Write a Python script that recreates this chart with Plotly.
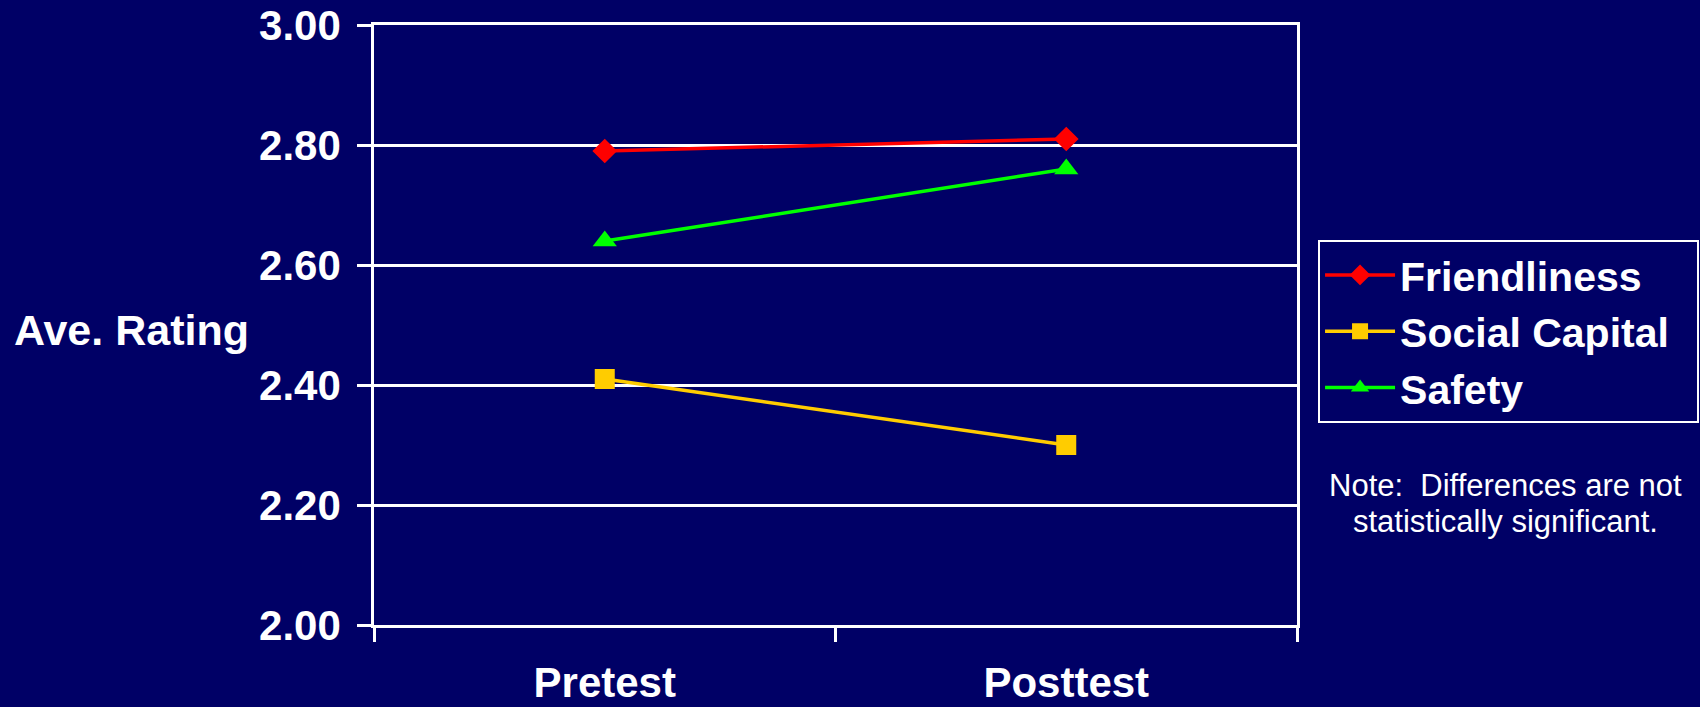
import plotly.graph_objects as go

categories = ["Pretest", "Posttest"]
friendliness = [2.79, 2.81]
social_capital = [2.41, 2.30]
safety = [2.64, 2.76]
y_ticks = [2.00, 2.20, 2.40, 2.60, 2.80, 3.00]
note_lines = ["Note:  Differences are not", "statistically significant."]
y_title = "Ave. Rating"

BG = "#000066"
FONT = "Liberation Sans, Arial, sans-serif"
PAD = "\u00a0\u00a0"  # right padding inside the legend box

fig = go.Figure()
series = [
    ("Friendliness", friendliness, "#FF0000", "diamond", 19),
    ("Social Capital", social_capital, "#FFCC00", "square", 20),
    ("Safety", safety, "#00FF00", "triangle-up", 21),
]
for name, vals, color, sym, size in series:
    fig.add_trace(go.Scatter(
        x=categories, y=vals, name=name + PAD, mode="lines+markers",
        line=dict(color=color, width=3.5),
        marker=dict(symbol=sym, size=size, color=color, line=dict(width=0)),
    ))

fig.update_layout(
    width=1700, height=707,
    paper_bgcolor=BG, plot_bgcolor=BG,
    margin=dict(l=374, r=403, t=25, b=82, autoexpand=False),
    font=dict(family=FONT, color="white"),
    showlegend=True,
    legend=dict(
        x=1.0228, y=0.642, xanchor="left", yanchor="top",
        bgcolor=BG, bordercolor="white", borderwidth=2,
        font=dict(family=FONT, size=41, color="white", weight="bold"),
        itemwidth=70,
        tracegroupgap=0,
    ),
    xaxis=dict(
        type="category", range=[-0.5, 1.5], automargin=False,
        tickson="boundaries", ticks="outside", ticklen=14, tickwidth=2.5, tickcolor="white",
        showgrid=False, showline=True, linecolor="white", linewidth=2.5, mirror=True,
        tickfont=dict(family=FONT, size=42, color="white", weight="bold"),
        ticklabelstandoff=19,
    ),
    yaxis=dict(
        range=[2.0, 3.0], tickvals=y_ticks, tickformat=".2f", automargin=False,
        ticks="outside", ticklen=14, tickwidth=2.5, tickcolor="white",
        showgrid=True, gridcolor="white", gridwidth=2.5,
        showline=True, linecolor="white", linewidth=2.5, mirror=True,
        zeroline=False,
        tickfont=dict(family=FONT, size=42, color="white", weight="bold"),
        ticklabelstandoff=8,
    ),
    annotations=[
        dict(text=y_title, xref="paper", yref="paper", x=-0.263, y=0.4917,
             xanchor="center", yanchor="middle", showarrow=False,
             font=dict(family=FONT, size=43, color="white", weight="bold")),
        dict(text=note_lines[0], xref="paper", yref="paper", x=1.2264, y=0.2333,
             xanchor="center", yanchor="middle", showarrow=False,
             font=dict(family=FONT, size=31, color="white")),
        dict(text=note_lines[1], xref="paper", yref="paper", x=1.2264, y=0.1717,
             xanchor="center", yanchor="middle", showarrow=False,
             font=dict(family=FONT, size=31, color="white")),
    ],
)

fig.write_html(
    "out.html",
    config={"displayModeBar": False},
    post_script="document.body.style.margin='0';document.body.style.padding='0';"
                "document.body.style.overflow='hidden';document.body.style.background='#000066';",
)
